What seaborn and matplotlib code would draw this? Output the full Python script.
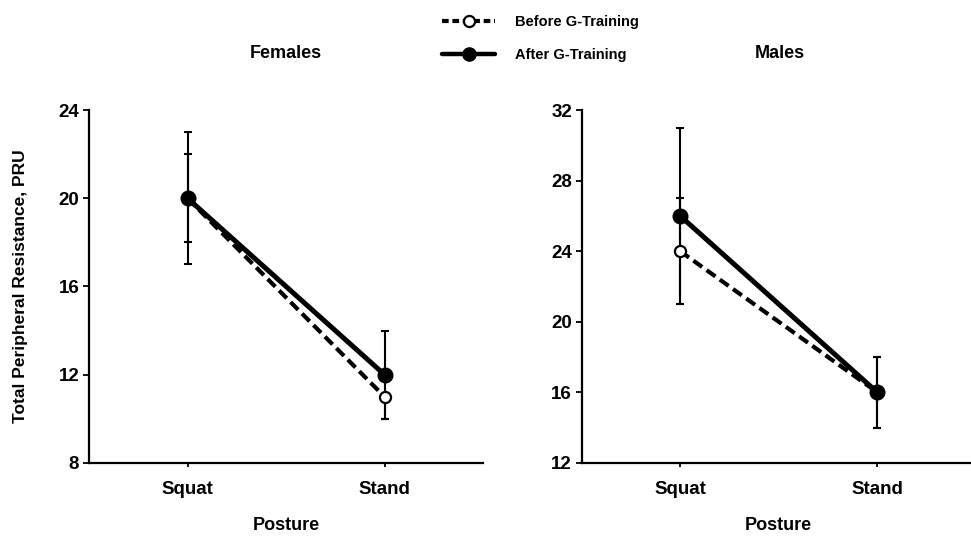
import numpy as np
import pandas as pd
import matplotlib
matplotlib.use("Agg")
import matplotlib.pyplot as plt
from matplotlib.lines import Line2D
import seaborn as sns

# --- data ---
postures = ['Squat', 'Stand']
groups = ['Before G-Training', 'After G-Training']

female_before = [20, 11]
female_before_sd = [3, 1]
female_after = [20, 12]
female_after_sd = [2, 2]

male_before = [24, 16]
male_before_sd = [3, 2]
male_after = [26, 16]
male_after_sd = [5, 2]

female_ticks = [8, 12, 16, 20, 24]
male_ticks = [12, 16, 20, 24, 28, 32]

# --- style ---
sns.set_style('ticks')
plt.rcParams['font.family'] = ['Liberation Sans', 'DejaVu Sans']
plt.rcParams['font.weight'] = 'bold'
plt.rcParams['axes.labelweight'] = 'bold'
plt.rcParams['text.color'] = 'black'
plt.rcParams['axes.labelcolor'] = 'black'
plt.rcParams['xtick.color'] = 'black'
plt.rcParams['ytick.color'] = 'black'


def make_df(before, after):
    return pd.DataFrame({
        'Posture': postures * 2,
        'Group': [groups[0]] * 2 + [groups[1]] * 2,
        'TPR': list(before) + list(after),
    })


def draw_panel(ax, before, before_sd, after, after_sd, ticks):
    df = make_df(before, after)
    sns.pointplot(data=df, x='Posture', y='TPR', hue='Group', hue_order=groups,
                  order=postures, palette=['black', 'black'], markers=['o', 'o'],
                  linestyles=['--', '-'], errorbar=None, ax=ax, legend=False)
    # style the two series lines
    for line in ax.lines:
        if line.get_linestyle() == '--':
            line.set_linewidth(3)
            line.set_dashes((2.6, 1.3))
            line.set_markerfacecolor('white')
            line.set_markeredgecolor('black')
            line.set_markeredgewidth(1.6)
            line.set_markersize(8)
            line.set_zorder(3)
        else:
            line.set_linewidth(3.6)
            line.set_markersize(9.5)
            line.set_zorder(4)
    pos = np.arange(len(postures))
    ax.errorbar(pos, before, yerr=before_sd, fmt='none', ecolor='black',
                elinewidth=1.5, capsize=3, capthick=1.5, zorder=2)
    ax.errorbar(pos, after, yerr=after_sd, fmt='none', ecolor='black',
                elinewidth=1.5, capsize=3, capthick=1.5, zorder=2)
    ax.set_ylim(ticks[0], ticks[-1])
    ax.set_yticks(ticks)
    ax.set_xlim(-0.5, len(postures) - 0.5)
    sns.despine(ax=ax)
    for s in ['left', 'bottom']:
        ax.spines[s].set_linewidth(1.6)
        ax.spines[s].set_color('black')
    ax.tick_params(axis='y', length=4, width=1.3, pad=3, labelsize=13.5, colors='black')
    ax.tick_params(axis='x', length=3, width=1.3, pad=10, labelsize=13.5, colors='black')
    for lbl in ax.get_xticklabels() + ax.get_yticklabels():
        lbl.set_fontweight('bold')
    ax.set_xlabel('Posture', fontsize=13, fontweight='bold', labelpad=14)
    ax.set_ylabel('')


fig = plt.figure(figsize=(9.71, 5.37), dpi=100)
ax1 = fig.add_axes([0.0917, 0.138, 0.4058, 0.657])
ax2 = fig.add_axes([0.599, 0.138, 0.406, 0.657])

draw_panel(ax1, female_before, female_before_sd, female_after, female_after_sd, female_ticks)
draw_panel(ax2, male_before, male_before_sd, male_after, male_after_sd, male_ticks)

ax1.set_ylabel('Total Peripheral Resistance, PRU', fontsize=12.5, fontweight='bold', labelpad=22)

fig.text(286 / 971, 1 - 54 / 537, 'Females', ha='center', va='center', fontsize=13, fontweight='bold')
fig.text(780 / 971, 1 - 54 / 537, 'Males', ha='center', va='center', fontsize=13, fontweight='bold')

handles = [
    Line2D([], [], color='black', linestyle='--', dashes=(1.6, 0.9), linewidth=3,
           marker='o', markersize=8, markerfacecolor='white', markeredgewidth=1.6),
    Line2D([], [], color='black', linestyle='-', linewidth=3.2, marker='o', markersize=9.5),
]
fig.legend(handles, groups, loc='upper center', bbox_to_anchor=(0.557, 0.997), frameon=False,
           prop={'weight': 'bold', 'size': 10.5}, handlelength=3.6, labelspacing=1.3,
           handletextpad=1.4, markerscale=1.0)

fig.savefig('out.png', dpi=100)
